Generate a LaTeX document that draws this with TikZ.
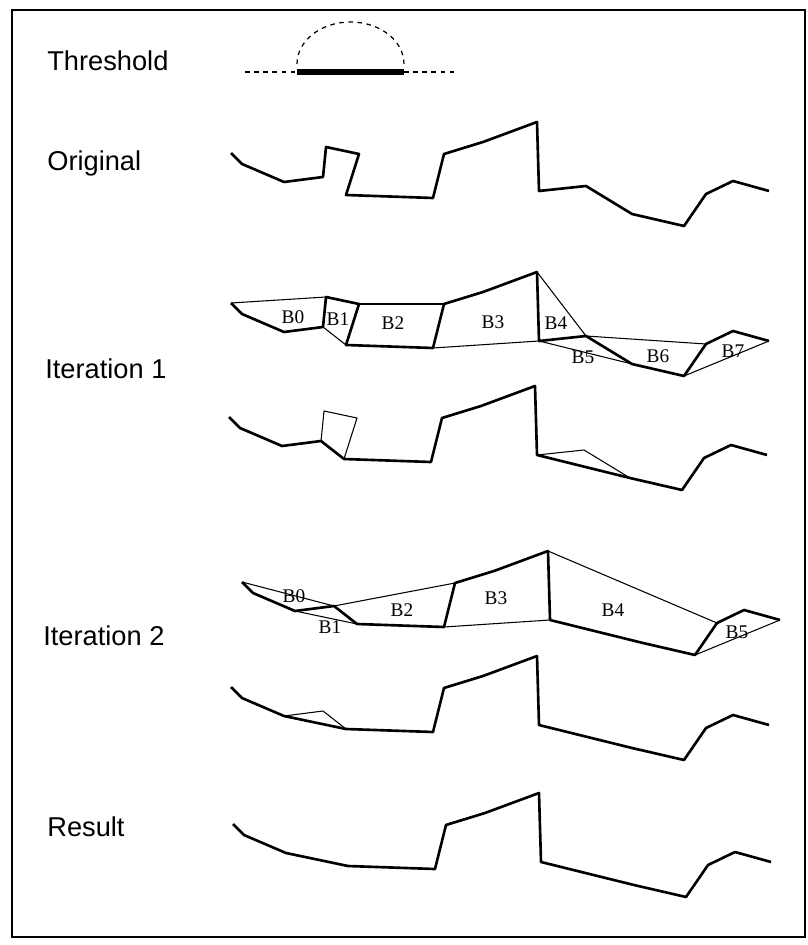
\documentclass[tikz,border=0pt]{standalone}
\usepackage{fontspec}
\setmainfont{Liberation Serif}
\setsansfont{Liberation Sans}
\tikzset{
  rowlabel/.style={anchor=base west, inner sep=0pt, font=\sffamily\fontsize{15.5}{18}\selectfont},
  blabel/.style={inner sep=0pt, font=\fontsize{11}{13}\selectfont},
  contour/.style={line width=1.5pt, line join=round},
  chord/.style={line width=0.6pt, line join=round},
  limit/.style={line width=0.7pt, dash pattern=on 2.6pt off 2.6pt},
}
% vertices of the profile, moved by (#2,#3) for each row
\newcommand{\profile}[3]{%
  \foreach \i/\px/\py in {0/231/153, 1/242/164, 2/284/182, 3/323/177,
                          4/326/147, 5/359/154, 6/346/195, 7/433/198,
                          8/444/154, 9/483/142, 10/537/122, 11/539/191,
                          12/586/186, 13/632/214, 14/684/226, 15/706/194,
                          16/733/181, 17/769/191}
    \coordinate (#1\i) at ({\px+#2},{\py+#3});
}
\begin{document}
\begin{tikzpicture}[x=0.02cm, y=-0.02cm]
  \useasboundingbox (0,0) rectangle (807,945);
  \draw[line width=1.1pt] (12,10) rectangle (805,937);

  % threshold
  \node[rowlabel] (thr) at (47,71) {Threshold};
  \coordinate (t0) at (245,72);
  \coordinate (t1) at (297,72);
  \coordinate (t2) at (404,72);
  \coordinate (t3) at (455,72);
  \draw[limit] (t0) -- (t1);
  \draw[limit] (t2) -- (t3);
  \draw[line width=3pt] (t1) -- (t2);
  \draw[limit] (297,64) arc[start angle=180, end angle=0, x radius=1.07cm, y radius=0.84cm];

  % original
  \node[rowlabel] (orig) at (47,171) {Original};
  \profile{o}{0}{0}
  \draw[contour] (o0) \foreach \i in {1,...,17} {-- (o\i)};

  % iteration 1
  \node[rowlabel] (it1) at (45,378) {Iteration 1};
  \profile{a}{0}{150}
  \draw[contour] (a0) \foreach \i in {1,...,17} {-- (a\i)};
  \foreach \p/\q in {0/4, 3/6, 5/8, 7/11, 10/12, 11/13, 12/15, 14/17}
    \draw[chord] (a\p) -- (a\q);
  \foreach \n/\lx/\ly in {0/293/317, 1/338/319, 2/393/323, 3/493/322,
                          4/556/323, 5/583/357, 6/658/356, 7/733/351}
    \node[blabel] (a-lab\n) at (\lx,\ly) {B\n};

  \profile{b}{-2}{264}
  \draw[contour] (b0) \foreach \i in {1,2,3,6,7,8,9,10,11,13,14,15,16,17} {-- (b\i)};
  \draw[chord] (b3) -- (b4) -- (b5) -- (b6);
  \draw[chord] (b11) -- (b12) -- (b13);

  % iteration 2
  \node[rowlabel] (it2) at (43,645) {Iteration 2};
  \profile{c}{11}{429}
  \draw[contour] (c0) \foreach \i in {1,2,3,6,7,8,9,10,11,13,14,15,16,17} {-- (c\i)};
  \foreach \p/\q in {0/3, 2/6, 3/8, 7/11, 10/15, 14/17}
    \draw[chord] (c\p) -- (c\q);
  \foreach \n/\lx/\ly in {0/294/596, 1/330/627, 2/402/610, 3/496/598,
                          4/613/610, 5/737/632}
    \node[blabel] (c-lab\n) at (\lx,\ly) {B\n};

  \profile{d}{0}{534}
  \draw[contour] (d0) \foreach \i in {1,2,6,7,8,9,10,11,13,14,15,16,17} {-- (d\i)};
  \draw[chord] (d2) -- (d3) -- (d6);

  % result
  \node[rowlabel] (res) at (47,836) {Result};
  \profile{r}{2}{671}
  \draw[contour] (r0) \foreach \i in {1,2,6,7,8,9,10,11,13,14,15,16,17} {-- (r\i)};
\end{tikzpicture}
\end{document}
